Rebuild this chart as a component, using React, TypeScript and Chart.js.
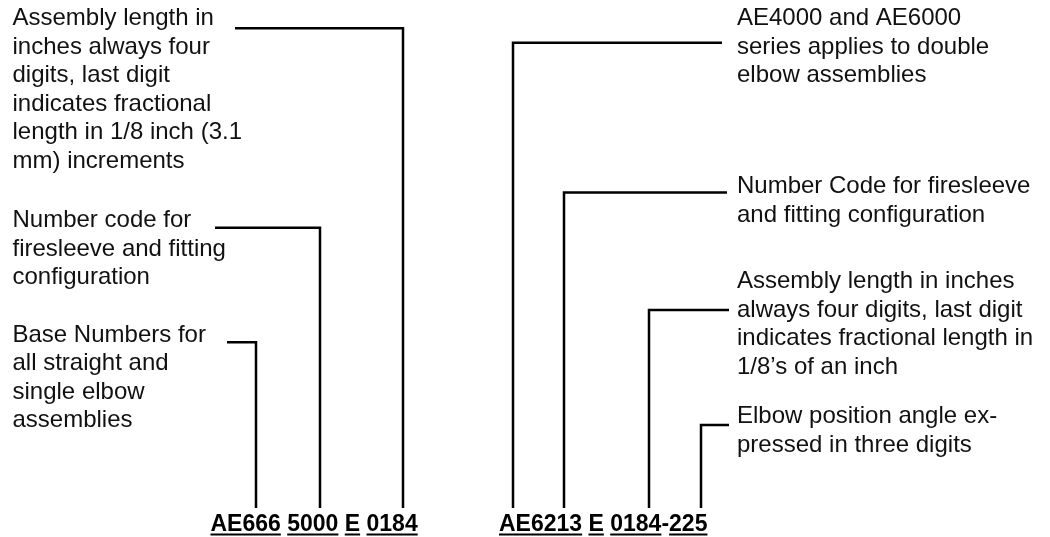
import React, { useEffect, useRef } from "react";
import { Chart, registerables } from "chart.js";

Chart.register(...registerables);

// ---- diagram content ----
const leftLabels: string[][] = [
  ["Assembly length in", "inches always four", "digits, last digit", "indicates fractional", "length in 1/8 inch (3.1", "mm) increments"],
  ["Number code for", "firesleeve and fitting", "configuration"],
  ["Base Numbers for", "all straight and", "single elbow", "assemblies"],
];
const leftBaselines = [25, 227, 341.7];

const rightLabels: string[][] = [
  ["AE4000 and AE6000", "series applies to double", "elbow assemblies"],
  ["Number Code for firesleeve", "and fitting configuration"],
  ["Assembly length in inches", "always four digits, last digit", "indicates fractional length in", "1/8\u2019s of an inch"],
  ["Elbow position angle ex-", "pressed in three digits"],
];
const rightBaselines = [25, 193, 288, 423];

const codeLeftTokens = ["AE666", " ", "5000", " ", "E", " ", "0184"];
const codeRightTokens = ["AE6213", " ", "E", " ", "0184", "-", "225"];

// leader lines: [label end x, leader y, drop x]
const leaderEndX = [235, 215, 227, 722, 727, 729, 729];
const leaderY = [28.3, 227.7, 342.3, 42.7, 192.5, 310, 425];
const leaderDropX = [403, 320, 256, 513, 564, 649, 701];
const leaderBottomY = 508;

const W = 1050;
const H = 537;
const LINE_H = 28.5;
const LEFT_X = 12.5;
const RIGHT_X = 737;
const CODE_BASE = 531;
const CODE_LEFT_X = 210.5;
const CODE_RIGHT_X = 499;

const textPlugin = {
  id: "diagramText",
  afterDraw(chart: any) {
    const ctx = chart.ctx as CanvasRenderingContext2D;
    const xs = chart.scales.x;
    const ys = chart.scales.y;
    ctx.save();
    ctx.fillStyle = "#111";
    ctx.textBaseline = "alphabetic";
    ctx.textAlign = "left";
    ctx.font = "24px 'Liberation Sans', Arial, sans-serif";
    leftLabels.forEach((lines, i) => {
      lines.forEach((ln, j) => {
        ctx.fillText(ln, xs.getPixelForValue(LEFT_X), ys.getPixelForValue(leftBaselines[i] + j * LINE_H));
      });
    });
    rightLabels.forEach((lines, i) => {
      lines.forEach((ln, j) => {
        ctx.fillText(ln, xs.getPixelForValue(RIGHT_X), ys.getPixelForValue(rightBaselines[i] + j * LINE_H));
      });
    });
    // part-number codes
    ctx.font = "bold 23px 'Liberation Sans', Arial, sans-serif";
    ctx.fillStyle = "#000";
    const drawCode = (tokens: string[], startX: number) => {
      let x = xs.getPixelForValue(startX);
      const y = ys.getPixelForValue(CODE_BASE);
      tokens.forEach((t) => {
        const w = ctx.measureText(t).width;
        ctx.fillText(t, x, y);
        if (t !== " " && t !== "-") {
          ctx.fillRect(x, y + 2.5, w, 2);
        }
        x += w;
      });
    };
    drawCode(codeLeftTokens, CODE_LEFT_X);
    drawCode(codeRightTokens, CODE_RIGHT_X);
    ctx.restore();
  },
};

export default function App() {
  const ref = useRef<HTMLCanvasElement | null>(null);
  useEffect(() => {
    if (!ref.current) return;
    const datasets = leaderEndX.map((ex, i) => ({
      data: [
        { x: ex, y: leaderY[i] },
        { x: leaderDropX[i], y: leaderY[i] },
        { x: leaderDropX[i], y: leaderBottomY },
      ],
      showLine: true,
      borderColor: "#000",
      borderWidth: 2.5,
      pointRadius: 0,
      borderJoinStyle: "miter" as const,
      borderCapStyle: "butt" as const,
      tension: 0,
    }));
    const chart = new Chart(ref.current, {
      type: "scatter",
      data: { datasets },
      options: {
        animation: false,
        responsive: false,
        layout: { padding: 0 },
        plugins: { legend: { display: false }, tooltip: { enabled: false }, title: { display: false } },
        scales: {
          x: { type: "linear", min: 0, max: W, display: false },
          y: { type: "linear", min: 0, max: H, reverse: true, display: false },
        },
      },
      plugins: [textPlugin],
    });
    return () => chart.destroy();
  }, []);
  return (
    <div style={{ position: "absolute", left: 0, top: 0, width: W, height: H, background: "#fff" }}>
      <canvas ref={ref} width={W} height={H} style={{ width: W, height: H, display: "block" }} />
    </div>
  );
}
